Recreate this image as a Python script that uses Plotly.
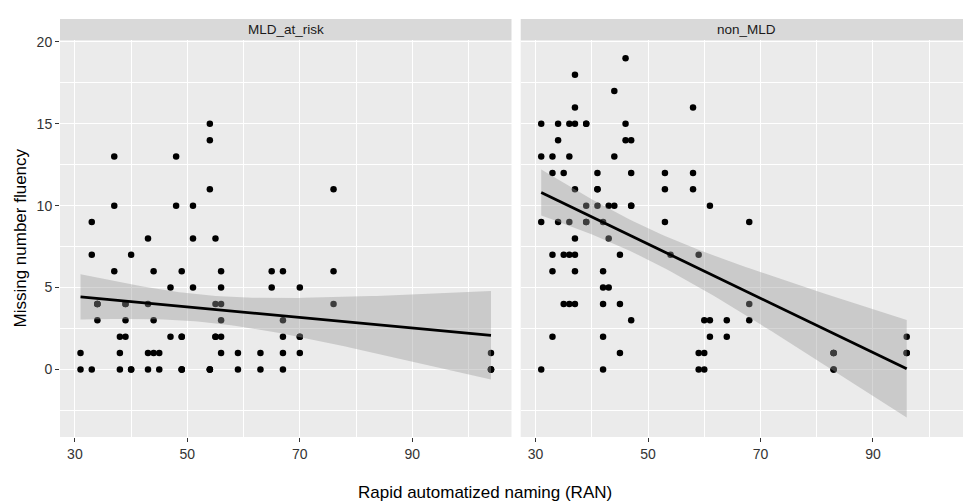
import numpy as np
import plotly.graph_objects as go

# ---- data (later entries are overlapping points) ----
panels = ["MLD_at_risk", "non_MLD"]

ran_mld = [54, 54, 37, 48, 54, 76, 37, 48, 51, 33, 43, 51, 55, 33, 40,
           37, 44, 49, 56, 65, 67, 76,
           47, 51, 56, 65, 70,
           34, 39, 43, 55, 56, 76,
           34, 39, 44, 56, 67,
           38, 39, 47, 49, 55, 56, 67, 70,
           31, 38, 43, 44, 45, 56, 59, 63, 67, 70, 104,
           31, 33, 38, 40, 43, 45, 49, 54, 59, 63, 67, 104,
           34, 34, 39, 40, 49, 49, 49, 54, 54, 55, 70, 104, 104]
mnf_mld = [15, 14, 13, 13, 11, 11, 10, 10, 10, 9, 8, 8, 8, 7, 7,
           6, 6, 6, 6, 6, 6, 6,
           5, 5, 5, 5, 5,
           4, 4, 4, 4, 4, 4,
           3, 3, 3, 3, 3,
           2, 2, 2, 2, 2, 2, 2, 2,
           1, 1, 1, 1, 1, 1, 1, 1, 1, 1, 1,
           0, 0, 0, 0, 0, 0, 0, 0, 0, 0, 0, 0,
           4, 4, 4, 0, 0, 0, 2, 0, 0, 2, 2, 0, 0]

ran_non = [46, 37, 44, 37, 58,
           31, 34, 36, 37, 39, 46,
           34, 46, 47,
           31, 33, 36, 44,
           33, 35, 41, 47, 53, 58,
           37, 41, 53, 58,
           39, 41, 43, 44, 47, 61,
           31, 34, 36, 39, 42, 53, 68,
           37, 43,
           33, 35, 36, 37, 45, 54, 59,
           33, 37, 42,
           42, 43,
           35, 36, 37, 42, 45, 68,
           47, 60, 61, 64, 68,
           33, 42, 61, 64, 96,
           45, 59, 60, 83, 96,
           31, 42, 59, 60, 83,
           39, 39, 41, 47, 83, 83, 83, 96]
mnf_non = [19, 18, 17, 16, 16,
           15, 15, 15, 15, 15, 15,
           14, 14, 14,
           13, 13, 13, 13,
           12, 12, 12, 12, 12, 12,
           11, 11, 11, 11,
           10, 10, 10, 10, 10, 10,
           9, 9, 9, 9, 9, 9, 9,
           8, 8,
           7, 7, 7, 7, 7, 7, 7,
           6, 6, 6,
           5, 5,
           4, 4, 4, 4, 4, 4,
           3, 3, 3, 3, 3,
           2, 2, 2, 2, 2,
           1, 1, 1, 1, 1,
           0, 0, 0, 0, 0,
           9, 15, 11, 10, 0, 1, 1, 1]

x_ticks = [30, 50, 70, 90]
y_ticks = [0, 5, 10, 15, 20]


def t975(df):
    z = 1.959963985
    g1 = (z**3 + z) / 4
    g2 = (5 * z**5 + 16 * z**3 + 3 * z) / 96
    g3 = (3 * z**7 + 19 * z**5 + 17 * z**3 - 15 * z) / 384
    return z + g1 / df + g2 / df**2 + g3 / df**3


def lm_band(x, y, n=80):
    x = np.asarray(x, float)
    y = np.asarray(y, float)
    N = len(x)
    b, a = np.polyfit(x, y, 1)
    s = np.sqrt(np.sum((y - a - b * x) ** 2) / (N - 2))
    xm = x.mean()
    sxx = np.sum((x - xm) ** 2)
    xs = np.linspace(x.min(), x.max(), n)
    fit = a + b * xs
    se = s * np.sqrt(1 / N + (xs - xm) ** 2 / sxx)
    t = t975(N - 2)
    return xs, fit, fit - t * se, fit + t * se


fig = go.Figure()
data = [(ran_mld, mnf_mld, "x", "y"), (ran_non, mnf_non, "x2", "y")]
for xv, yv, xa, ya in data:
    fig.add_trace(go.Scatter(x=xv, y=yv, mode="markers", xaxis=xa, yaxis=ya,
                             marker=dict(color="black", size=6.5, line=dict(width=0)),
                             showlegend=False, hoverinfo="x+y"))
    xs, fit, lo, hi = lm_band(xv, yv)
    fig.add_trace(go.Scatter(x=np.concatenate([xs, xs[::-1]]),
                             y=np.concatenate([hi, lo[::-1]]),
                             mode="lines", fill="toself", xaxis=xa, yaxis=ya,
                             fillcolor="rgba(153,153,153,0.4)",
                             line=dict(width=0), showlegend=False, hoverinfo="skip"))
    fig.add_trace(go.Scatter(x=xs, y=fit, mode="lines", xaxis=xa, yaxis=ya,
                             line=dict(color="black", width=2.8),
                             showlegend=False, hoverinfo="skip"))

W, H = 963, 504
ml, mr, mt, mb = 60, 0, 40, 67
pw = W - ml - mr
ph = H - mt - mb
left_w = 451.5
gap = 9.2
px_per = left_w / (107.65 - 27.35)
right_w = pw - left_w - gap
xr_left = [27.35, 107.65]
xr_right = [27.35, 27.35 + right_w / px_per]

tickfont = dict(family="Liberation Sans, Arial, sans-serif", size=14, color="#333333")
common_x = dict(tickmode="array", tickvals=x_ticks, ticktext=[str(v) for v in x_ticks],
                showgrid=True, gridcolor="white", gridwidth=1.1, zeroline=False,
                ticks="outside", ticklen=4, tickwidth=1, tickcolor="#333333",
                tickfont=tickfont, showline=False,
                minor=dict(tickmode="array", tickvals=[40, 60, 80, 100], showgrid=True,
                           gridcolor="white", gridwidth=0.55, ticks=""))

fig.update_layout(
    width=W, height=H,
    margin=dict(l=ml, r=mr, t=mt, b=mb),
    paper_bgcolor="white", plot_bgcolor="#EBEBEB",
    font=dict(family="Liberation Sans, Arial, sans-serif"),
    xaxis=dict(domain=[0, left_w / pw], range=xr_left, **common_x),
    xaxis2=dict(domain=[(left_w + gap) / pw, 1], range=xr_right, anchor="y", **common_x),
    yaxis=dict(range=[-4.13, 20.12], tickmode="array", tickvals=y_ticks,
               ticktext=[str(v) for v in y_ticks],
               showgrid=True, gridcolor="white", gridwidth=1.1, zeroline=False,
               ticks="outside", ticklen=4, tickwidth=1, tickcolor="#333333",
               tickfont=tickfont, showline=False,
               minor=dict(tickmode="array", tickvals=[-2.5, 2.5, 7.5, 12.5, 17.5],
                          showgrid=True, gridcolor="white", gridwidth=0.55, ticks="")),
)

strip_h = 21 / ph
for xa in ["x domain", "x2 domain"]:
    fig.add_shape(type="rect", xref=xa, yref="paper", x0=0, x1=1, y0=1, y1=1 + strip_h,
                  fillcolor="#D9D9D9", line=dict(width=0), layer="below")

stripfont = dict(family="Liberation Sans, Arial, sans-serif", size=13.5, color="#1A1A1A")
fig.add_annotation(text=panels[0], xref="x domain", x=0.5, yref="paper", y=1 + strip_h / 2,
                   showarrow=False, font=stripfont, xanchor="center", yanchor="middle")
fig.add_annotation(text=panels[1], xref="paper", x=(746.7 - ml) / pw, yref="paper",
                   y=1 + strip_h / 2, showarrow=False, font=stripfont,
                   xanchor="center", yanchor="middle")

titlefont = dict(family="Liberation Sans, Arial, sans-serif", size=17, color="black")
fig.add_annotation(text="Missing number fluency", xref="paper", x=(20 - ml) / pw,
                   yref="paper", y=0.5, textangle=-90, showarrow=False, font=titlefont,
                   xanchor="center", yanchor="middle")
fig.add_annotation(text="Rapid automatized naming (RAN)", xref="paper", x=(485 - ml) / pw,
                   yref="paper", y=(mt + ph - 492) / ph, showarrow=False, font=titlefont,
                   xanchor="center", yanchor="middle")

fig.write_html("out.html", config={"displayModeBar": False},
               post_script="document.body.style.margin='0';document.body.style.padding='0';")
